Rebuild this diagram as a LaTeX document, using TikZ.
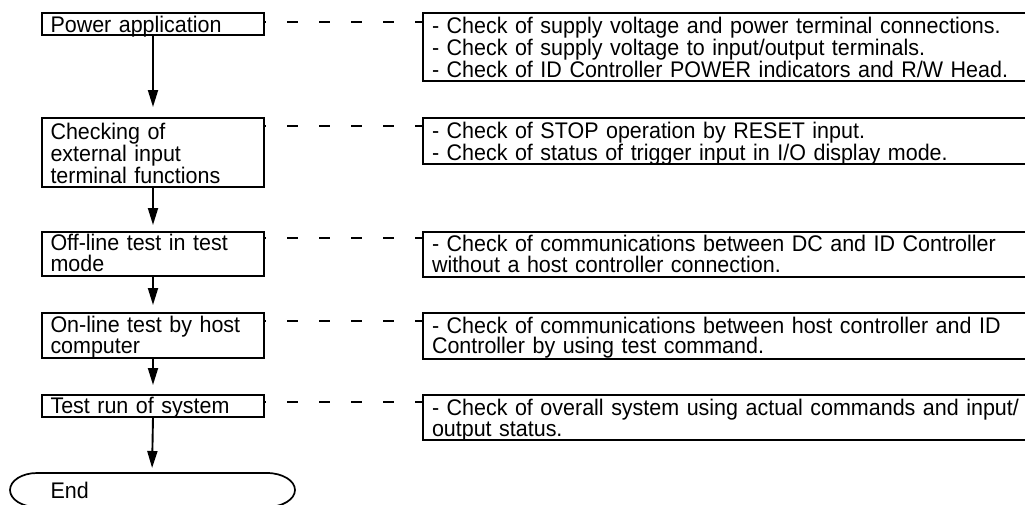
\documentclass[tikz,border=0pt]{standalone}
\usepackage{fontspec}
\setmainfont{Liberation Sans}[FakeStretch=0.95]
\usetikzlibrary{arrows.meta}
\begin{document}
\begin{tikzpicture}[x=1pt,y=-1pt,
  box/.style={draw=black,line width=1.7pt,rectangle,inner sep=0pt,outer sep=0pt,anchor=north west},
  txt/.style={inner sep=0pt,outer sep=0pt,anchor=base west,align=left,
    font=\fontsize{22.6}{20.5}\selectfont},
  ltxt/.style={txt,text width=215pt},
  rtxt/.style={txt,text width=600pt},
  arr/.style={line width=1.9pt,-{Triangle[length=17pt,width=10pt]}},
  dashline/.style={line width=1.6pt,dash pattern=on 11pt off 21pt,dash phase=9pt}]
\clip (0,0) rectangle (1025,504);
% left boxes
\node[box,minimum width=222pt,minimum height=22pt] (b1) at (42,13) {};
\node[box,minimum width=222pt,minimum height=69pt] (b2) at (42,118) {};
\node[box,minimum width=222pt,minimum height=44pt] (b3) at (42,232) {};
\node[box,minimum width=222pt,minimum height=45pt] (b4) at (42,313) {};
\node[box,minimum width=222pt,minimum height=22pt] (b5) at (42,395) {};
% right boxes
\node[box,minimum width=640pt,minimum height=68pt] (r1) at (423,13) {};
\node[box,minimum width=640pt,minimum height=46pt] (r2) at (423,118) {};
\node[box,minimum width=640pt,minimum height=45pt] (r3) at (423,232) {};
\node[box,minimum width=640pt,minimum height=46pt] (r4) at (423,313) {};
\node[box,minimum width=640pt,minimum height=45pt] (r5) at (423,395) {};
% left texts
\node[ltxt] (t1) at (50.5,32.3) {Power application};
\node[ltxt] (t2) at (50.5,139.5) {Checking of\\external input\\terminal functions};
\node[ltxt] (t3) at (50.5,250.5) {Off-line test in test\\mode};
\node[ltxt] (t4) at (50.5,332.5) {On-line test by host\\computer};
\node[ltxt] (t5) at (50.5,413.5) {Test run of system};
% right texts
\node[rtxt] (s1) at (432,33.5) {- Check of supply voltage and power terminal connections.\\- Check of supply voltage to input/output terminals.\\- Check of ID Controller POWER indicators and R/W Head.};
\node[rtxt] (s2) at (432,138) {- Check of STOP operation by RESET input.\\- Check of status of trigger input in I/O display mode.};
\node[rtxt] (s3) at (432,251.5) {- Check of communications between DC and ID Controller\\without a host controller connection.};
\node[rtxt] (s4) at (432,333.3) {- Check of communications between host controller and ID\\Controller by using test command.};
\node[rtxt] (s5) at (432,415.5) {- Check of overall system using actual commands and input/\\output status.};
% end terminal
\coordinate (endtop) at (152,473);
\draw[line width=1.7pt] (37,473) -- (267,473)
  arc[start angle=90,end angle=-90,x radius=28pt,y radius=17pt]
  -- (37,507)
  arc[start angle=-90,end angle=-270,x radius=27pt,y radius=17pt] -- cycle;
\node[txt] (endt) at (50.5,498) {End};
% arrows
\draw[arr,shorten >=11pt] (b1.south) -- (b2.north);
\draw[arr,shorten >=7pt] (b2.south) -- (b3.north);
\draw[arr,shorten >=8pt] (b3.south) -- (b4.north);
\draw[arr,shorten >=10pt] (b4.south) -- (b5.north);
\draw[arr,shorten >=5pt] (b5.south) -- (endtop);
% dashed links
\draw[dashline] (b1.east |- 0,22) -- (r1.west |- 0,22);
\draw[dashline] (b2.east |- 0,126) -- (r2.west |- 0,126);
\draw[dashline] (b3.east |- 0,238) -- (r3.west |- 0,238);
\draw[dashline] (b4.east |- 0,321) -- (r4.west |- 0,321);
\draw[dashline] (b5.east |- 0,402) -- (r5.west |- 0,402);
\end{tikzpicture}
\end{document}
